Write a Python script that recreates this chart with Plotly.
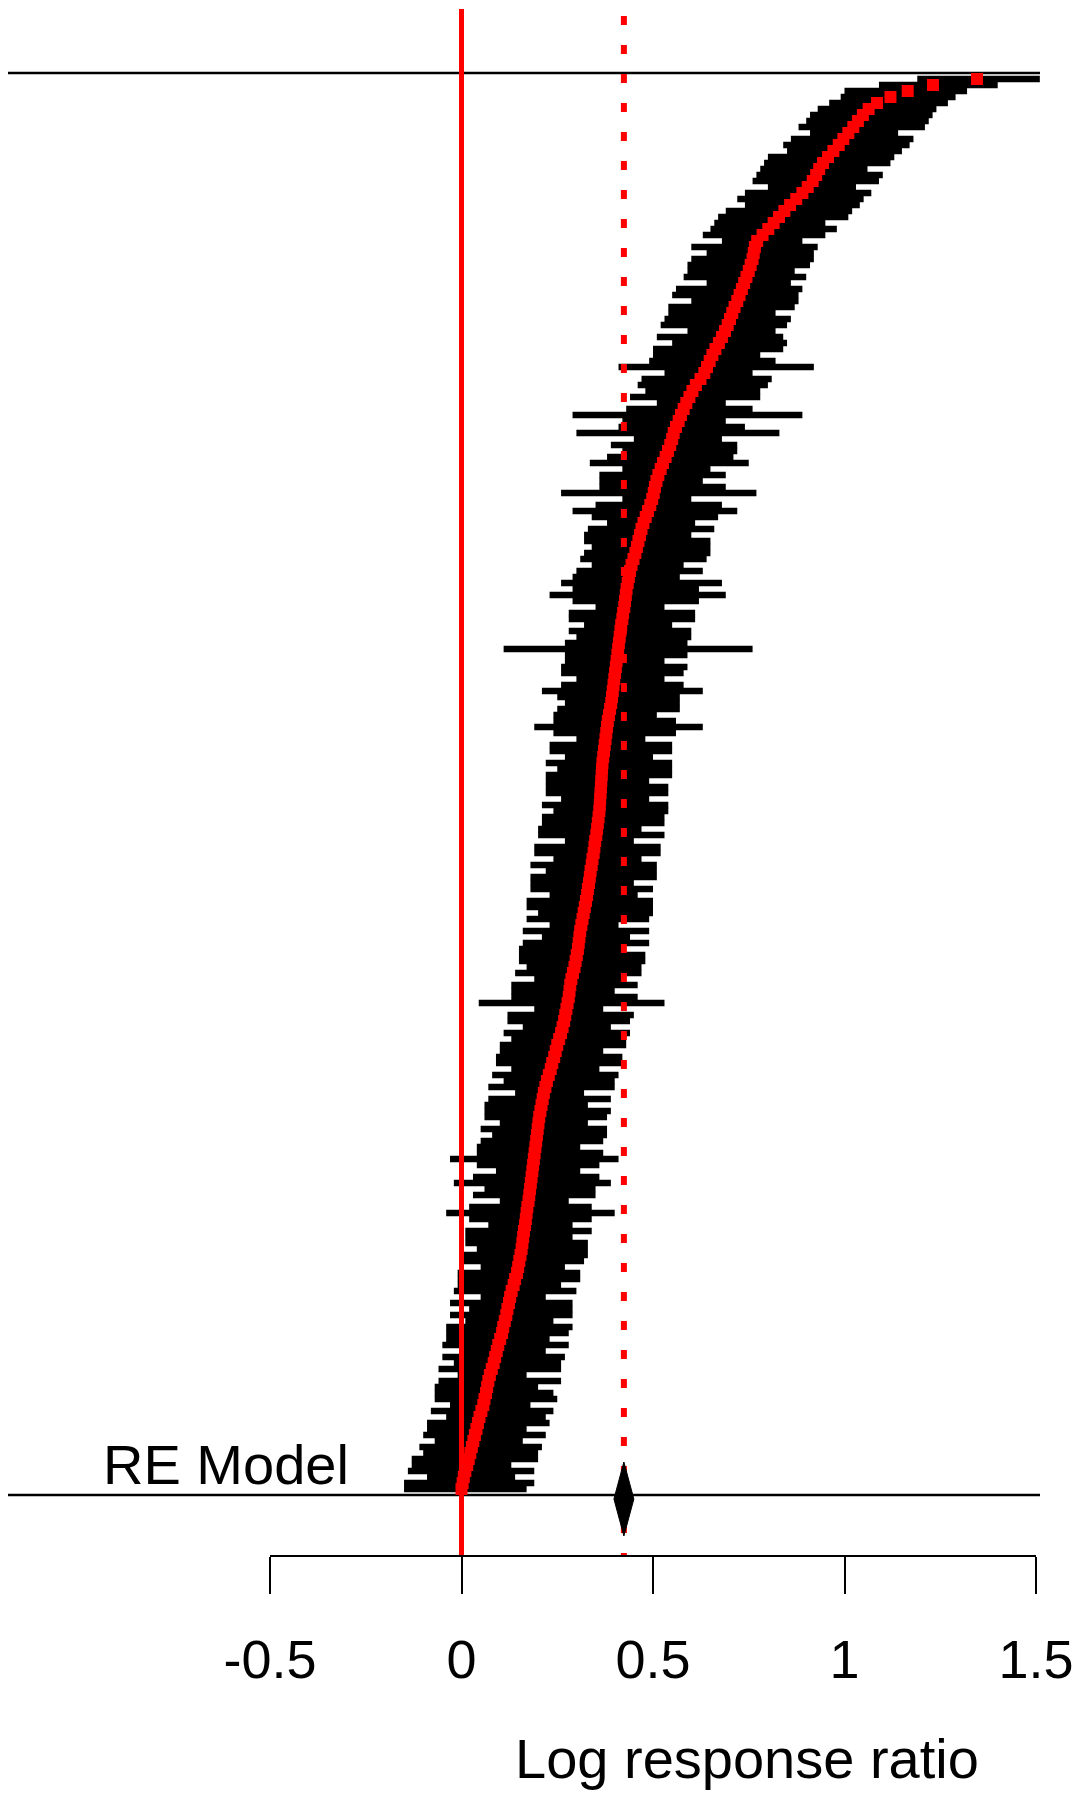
"""Forest plot of log response ratios (metafor style) — Plotly version."""

import plotly.graph_objects as go

# ------------------------------------------------------------------
# Data: study estimates and 95% CI, row 1 = bottom, last row = top
# ------------------------------------------------------------------
est = [
    0.000, 0.003, 0.006, 0.010, 0.015, 0.019, 0.023, 0.027, 0.031, 0.035, 0.039, 0.043,
    0.047, 0.052, 0.057, 0.060, 0.064, 0.067, 0.070, 0.074, 0.079, 0.084, 0.088, 0.092,
    0.096, 0.101, 0.106, 0.109, 0.113, 0.117, 0.120, 0.124, 0.127, 0.131, 0.136, 0.140,
    0.145, 0.148, 0.151, 0.154, 0.157, 0.159, 0.161, 0.163, 0.166, 0.168, 0.170, 0.172,
    0.175, 0.177, 0.179, 0.181, 0.183, 0.185, 0.187, 0.189, 0.191, 0.193, 0.195, 0.197,
    0.199, 0.201, 0.203, 0.206, 0.209, 0.212, 0.215, 0.219, 0.223, 0.228, 0.233, 0.237,
    0.242, 0.246, 0.250, 0.255, 0.260, 0.264, 0.268, 0.271, 0.274, 0.277, 0.280, 0.282,
    0.284, 0.287, 0.291, 0.295, 0.298, 0.301, 0.304, 0.306, 0.308, 0.310, 0.313, 0.316,
    0.319, 0.322, 0.325, 0.328, 0.330, 0.333, 0.335, 0.337, 0.340, 0.342, 0.345, 0.347,
    0.349, 0.352, 0.354, 0.356, 0.358, 0.360, 0.361, 0.362, 0.363, 0.364, 0.365, 0.366,
    0.367, 0.368, 0.370, 0.372, 0.374, 0.376, 0.378, 0.380, 0.382, 0.385, 0.388, 0.391,
    0.393, 0.395, 0.397, 0.399, 0.401, 0.403, 0.405, 0.407, 0.409, 0.411, 0.413, 0.415,
    0.417, 0.420, 0.422, 0.425, 0.427, 0.429, 0.431, 0.434, 0.437, 0.440, 0.444, 0.449,
    0.454, 0.458, 0.462, 0.466, 0.470, 0.475, 0.481, 0.487, 0.493, 0.498, 0.502, 0.505,
    0.509, 0.514, 0.520, 0.526, 0.533, 0.539, 0.545, 0.550, 0.554, 0.560, 0.567, 0.573,
    0.580, 0.587, 0.595, 0.603, 0.612, 0.624, 0.634, 0.641, 0.648, 0.655, 0.663, 0.672,
    0.680, 0.688, 0.695, 0.701, 0.707, 0.713, 0.720, 0.726, 0.732, 0.738, 0.744, 0.750,
    0.755, 0.760, 0.763, 0.766, 0.772, 0.786, 0.801, 0.815, 0.829, 0.843, 0.858, 0.874,
    0.890, 0.904, 0.917, 0.926, 0.934, 0.944, 0.957, 0.971, 0.985, 0.997, 1.010, 1.023,
    1.035, 1.048, 1.063, 1.085, 1.120, 1.165, 1.231, 1.346,
]

ci_lb = [
    -0.15, -0.15, -0.09, -0.14, -0.13, -0.13, -0.10, -0.11, -0.07, -0.10, -0.09, -0.09,
    -0.04, -0.08, -0.03, -0.07, -0.07, -0.07, -0.06, -0.01, -0.06, -0.02, -0.05, 0.00,
    -0.05, -0.04, -0.04, -0.04, 0.01, -0.03, 0.02, -0.03, 0.05, -0.02, -0.01, -0.01,
    -0.01, 0.05, 0.00, 0.00, 0.04, 0.01, 0.01, 0.01, 0.07, 0.02, -0.04, 0.02,
    0.10, 0.03, 0.06, -0.02, 0.03, 0.09, 0.04, -0.03, 0.04, 0.04, 0.05, 0.08,
    0.05, 0.10, 0.06, 0.06, 0.06, 0.07, 0.14, 0.07, 0.11, 0.08, 0.13, 0.09,
    0.09, 0.10, 0.10, 0.13, 0.11, 0.16, 0.12, 0.12, 0.19, 0.045, 0.13, 0.13,
    0.13, 0.19, 0.14, 0.17, 0.15, 0.15, 0.15, 0.16, 0.21, 0.16, 0.23, 0.17,
    0.20, 0.17, 0.17, 0.23, 0.18, 0.18, 0.18, 0.22, 0.18, 0.24, 0.19, 0.19,
    0.27, 0.20, 0.20, 0.21, 0.21, 0.24, 0.21, 0.26, 0.22, 0.22, 0.22, 0.22,
    0.25, 0.22, 0.27, 0.23, 0.23, 0.30, 0.24, 0.19, 0.24, 0.24, 0.25, 0.27,
    0.25, 0.21, 0.26, 0.30, 0.26, 0.26, 0.27, 0.27, 0.11, 0.27, 0.30, 0.28,
    0.32, 0.28, 0.28, 0.35, 0.29, 0.23, 0.29, 0.26, 0.29, 0.30, 0.34, 0.31,
    0.32, 0.34, 0.32, 0.32, 0.33, 0.38, 0.34, 0.29, 0.35, 0.42, 0.26, 0.36,
    0.36, 0.36, 0.42, 0.335, 0.38, 0.42, 0.39, 0.45, 0.30, 0.41, 0.42, 0.29,
    0.43, 0.51, 0.44, 0.48, 0.46, 0.47, 0.53, 0.41, 0.49, 0.50, 0.50, 0.55,
    0.51, 0.59, 0.52, 0.53, 0.54, 0.54, 0.60, 0.55, 0.56, 0.64, 0.58, 0.59,
    0.59, 0.60, 0.64, 0.60, 0.68, 0.63, 0.65, 0.66, 0.67, 0.69, 0.74, 0.72,
    0.74, 0.80, 0.76, 0.77, 0.78, 0.79, 0.80, 0.85, 0.84, 0.86, 0.91, 0.88,
    0.90, 0.91, 0.93, 0.96, 0.99, 1.00, 1.09, 1.19,
]

ci_ub = [
    0.17, 0.19, 0.14, 0.19, 0.13, 0.20, 0.20, 0.21, 0.16, 0.22, 0.17, 0.23,
    0.22, 0.24, 0.18, 0.25, 0.24, 0.20, 0.26, 0.17, 0.26, 0.26, 0.27, 0.22,
    0.28, 0.23, 0.28, 0.29, 0.24, 0.29, 0.29, 0.29, 0.22, 0.30, 0.26, 0.31,
    0.31, 0.27, 0.32, 0.33, 0.33, 0.33, 0.29, 0.34, 0.29, 0.34, 0.40, 0.34,
    0.28, 0.35, 0.35, 0.39, 0.36, 0.31, 0.36, 0.41, 0.37, 0.31, 0.37, 0.38,
    0.38, 0.33, 0.38, 0.39, 0.33, 0.39, 0.32, 0.40, 0.40, 0.41, 0.36, 0.42,
    0.42, 0.37, 0.43, 0.43, 0.44, 0.39, 0.44, 0.45, 0.37, 0.53, 0.46, 0.40,
    0.46, 0.42, 0.47, 0.47, 0.48, 0.48, 0.42, 0.49, 0.44, 0.49, 0.41, 0.49,
    0.50, 0.50, 0.50, 0.46, 0.50, 0.45, 0.51, 0.51, 0.51, 0.47, 0.52, 0.52,
    0.45, 0.53, 0.47, 0.53, 0.53, 0.54, 0.54, 0.49, 0.54, 0.54, 0.49, 0.55,
    0.55, 0.55, 0.50, 0.55, 0.55, 0.48, 0.56, 0.63, 0.56, 0.51, 0.57, 0.57,
    0.57, 0.63, 0.58, 0.53, 0.58, 0.59, 0.53, 0.59, 0.76, 0.59, 0.60, 0.60,
    0.55, 0.61, 0.61, 0.53, 0.62, 0.69, 0.62, 0.68, 0.57, 0.63, 0.58, 0.64,
    0.65, 0.65, 0.65, 0.60, 0.66, 0.61, 0.67, 0.72, 0.68, 0.60, 0.77, 0.69,
    0.63, 0.69, 0.65, 0.75, 0.71, 0.72, 0.72, 0.68, 0.83, 0.74, 0.69, 0.89,
    0.76, 0.69, 0.78, 0.78, 0.80, 0.81, 0.76, 0.92, 0.82, 0.78, 0.84, 0.85,
    0.84, 0.82, 0.85, 0.86, 0.82, 0.87, 0.88, 0.88, 0.89, 0.86, 0.90, 0.87,
    0.91, 0.92, 0.92, 0.93, 0.89, 0.95, 0.98, 0.95, 1.01, 1.02, 1.04, 1.05,
    1.07, 1.03, 1.09, 1.10, 1.06, 1.12, 1.13, 1.15, 1.17, 1.18, 1.14, 1.21,
    1.22, 1.23, 1.24, 1.27, 1.29, 1.32, 1.40, 1.51,
]

# random-effects summary
re_est, re_lb, re_ub = 0.424, 0.398, 0.450

tick_vals = [-0.5, 0, 0.5, 1, 1.5]
tick_text = ["-0.5", "0", "0.5", "1", "1.5"]

assert len(est) == len(ci_lb) == len(ci_ub)
k = len(est)
rows = list(range(1, k + 1))

# ------------------------------------------------------------------
# Geometry, in pixels of the 1089 x 1796 browser page.
# The html body keeps its default 8px margin, so the figure is made
# 8px smaller and every position below is given in page pixels.
# ------------------------------------------------------------------
PAGE_W, PAGE_H, BODY = 1089, 1796, 8
W, H = PAGE_W - BODY, PAGE_H - BODY
PX_ZERO, PX_PER_UNIT = 461.5, 383.0     # x = 0 position, scale
ROW_PX, ROW0_PX = 6.0, 1495.0           # row spacing, pixel of row 0
AXIS_PX = 1556.0                        # x axis line


def px_x(px):
    """page pixel (from left) -> x data units"""
    return (px - PX_ZERO) / PX_PER_UNIT


def px_row(px):
    """page pixel (from top) -> row units on the y axis"""
    return (ROW0_PX - px) / ROW_PX


x_range = [px_x(BODY), px_x(PAGE_W)]
y_range = [px_row(PAGE_H), px_row(BODY)]

FONT = "Liberation Sans, Arial, Helvetica, sans-serif"
BLACK = "black"
RED = "#FF0000"

fig = go.Figure()

# horizontal separators at k+1 and 0
for r in (k + 1, 0):
    fig.add_trace(go.Scatter(
        x=[x_range[0], px_x(1040)], y=[r, r], mode="lines",
        line=dict(color=BLACK, width=2.5), hoverinfo="skip",
    ))

# CI segments
seg_x, seg_y = [], []
for lo, hi, r in zip(ci_lb, ci_ub, rows):
    seg_x += [lo, hi, None]
    seg_y += [r, r, None]
fig.add_trace(go.Scatter(
    x=seg_x, y=seg_y, mode="lines",
    line=dict(color=BLACK, width=6.3), hoverinfo="skip",
))

# point estimates
fig.add_trace(go.Scatter(
    x=est, y=rows, mode="markers",
    marker=dict(symbol="square", size=12, color=RED, line=dict(width=0)),
    hovertemplate="%{x:.3f}<extra></extra>",
))

# reference lines: no effect (solid) and summary estimate (dotted)
v_bot = px_row(AXIS_PX)
fig.add_trace(go.Scatter(
    x=[0, 0], y=[px_row(9), v_bot], mode="lines",
    line=dict(color=RED, width=5), hoverinfo="skip",
))
fig.add_trace(go.Scatter(
    x=[re_est, re_est], y=[px_row(16), v_bot], mode="lines",
    line=dict(color=RED, width=6, dash="9px,20px"), hoverinfo="skip",
))

# RE model diamond
d_mid, d_half = px_row(1499), 37 / ROW_PX
fig.add_trace(go.Scatter(
    x=[re_lb, re_est, re_ub, re_est, re_lb],
    y=[d_mid, d_mid + d_half, d_mid, d_mid - d_half, d_mid],
    mode="lines", fill="toself", fillcolor=BLACK,
    line=dict(color=BLACK, width=1), hoverinfo="skip",
))

# x axis line, only across the tick span
fig.add_trace(go.Scatter(
    x=[tick_vals[0], tick_vals[-1]], y=[v_bot, v_bot], mode="lines",
    line=dict(color=BLACK, width=2), hoverinfo="skip",
))

fig.add_annotation(
    x=px_x(101), y=px_row(1464), xref="x", yref="y",
    text="RE Model", showarrow=False, xanchor="left", yanchor="middle",
    font=dict(family=FONT, size=56, color=BLACK),
)
fig.add_annotation(
    x=px_x(747), y=px_row(1758), xref="x", yref="y",
    text="Log response ratio", showarrow=False, xanchor="center", yanchor="middle",
    font=dict(family=FONT, size=56, color=BLACK),
)

fig.update_layout(
    width=W, height=H,
    margin=dict(l=0, r=0, t=0, b=0, autoexpand=False),
    paper_bgcolor="white", plot_bgcolor="white",
    showlegend=False,
    xaxis=dict(
        domain=[0, 1], range=x_range, fixedrange=True,
        anchor="free", position=(PAGE_H - AXIS_PX) / H,
        tickmode="array", tickvals=tick_vals, ticktext=tick_text,
        ticks="outside", ticklen=37, tickwidth=2, tickcolor=BLACK,
        showline=False, showgrid=False, zeroline=False,
        tickfont=dict(family=FONT, size=54, color=BLACK),
        ticklabelstandoff=19,
    ),
    yaxis=dict(domain=[0, 1], range=y_range, visible=False, fixedrange=True),
)

fig.write_html("out.html")
